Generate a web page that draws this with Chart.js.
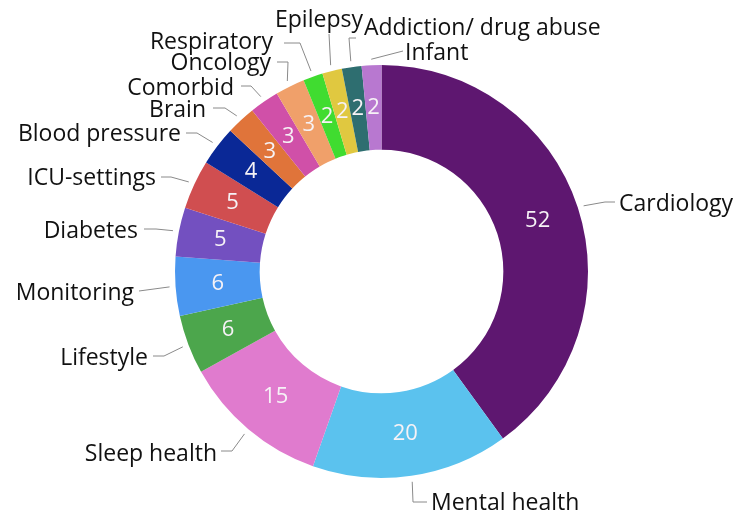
<!DOCTYPE html>
<html>
<head>
<meta charset="utf-8">
<script src="https://cdn.jsdelivr.net/npm/chart.js@4/dist/chart.umd.min.js"></script>
<style>
  html, body { margin: 0; padding: 0; background: #fff; }
  #wrap { width: 738px; height: 519px; }
</style>
</head>
<body>
<div id="wrap"><canvas id="topicsChart"></canvas></div>
<script>
const topics = ['Cardiology', 'Mental health', 'Sleep health', 'Lifestyle', 'Monitoring',
    'Diabetes', 'ICU-settings', 'Blood pressure', 'Brain', 'Comorbid', 'Oncology',
    'Respiratory', 'Epilepsy', 'Addiction/ drug abuse', 'Infant'];
const studyCounts = [52, 20, 15, 6, 6, 5, 5, 4, 3, 3, 3, 2, 2, 2, 2];
const sliceColors = ['#5e1770', '#5bc2ee', '#e07bce', '#4ca64c', '#4a97f0',
    '#7350c0', '#d04e50', '#0a2896', '#e0743a', '#d050a8', '#f0a06a',
    '#40dc30', '#e0c840', '#2e6e70', '#b878d0'];

// where each category name sits, and the bends of its leader line
const nameLayout = [
    { x: 619, y: 204, align: 'left',  bends: [[605, 202], [615, 202]] },
    { x: 431, y: 503, align: 'left',  bends: [[413, 502], [427, 502]] },
    { x: 217, y: 454, align: 'right', bends: [[232, 451], [221, 451]] },
    { x: 148, y: 358, align: 'right', bends: [[164, 356], [153, 356]] },
    { x: 134, y: 293, align: 'right', bends: [[139, 291]] },
    { x: 138, y: 231, align: 'right', bends: [[156, 229], [144, 229]] },
    { x: 156, y: 178, align: 'right', bends: [[171, 177], [161, 177]] },
    { x: 181, y: 134, align: 'right', bends: [[197, 133], [186, 133]] },
    { x: 206, y: 110, align: 'right', bends: [[225, 108], [213, 108]] },
    { x: 234, y: 88,  align: 'right', bends: [[251, 86], [241, 86]] },
    { x: 271, y: 63,  align: 'right', bends: [[288, 62], [277, 62]] },
    { x: 273, y: 42,  align: 'right', bends: [[300, 43], [284, 43]] },
    { x: 275, y: 20,  align: 'left',  bends: [[329, 34]] },
    { x: 364, y: 28,  align: 'left',  bends: [[349, 38], [356, 38]] },
    { x: 405, y: 53,  align: 'left',  bends: [[403, 51]] }
];

const FONT = '"Open Sans", "Noto Sans", sans-serif';

const sliceLabels = {
    id: 'sliceLabels',
    afterDatasetsDraw(chart) {
        const ctx = chart.ctx;
        const arcs = chart.getDatasetMeta(0).data;
        ctx.save();
        arcs.forEach((arc, i) => {
            // value inside the ring
            const pos = arc.tooltipPosition();
            ctx.fillStyle = '#f6f2f6';
            ctx.font = '22px ' + FONT;
            ctx.textAlign = 'center';
            ctx.textBaseline = 'middle';
            ctx.fillText(String(studyCounts[i]), pos.x, pos.y);

            // leader line from just outside the ring
            const mid = (arc.startAngle + arc.endAngle) / 2;
            const r = arc.outerRadius + 6;
            const lay = nameLayout[i];
            ctx.strokeStyle = '#8a8a8a';
            ctx.lineWidth = 1;
            ctx.beginPath();
            ctx.moveTo(arc.x + Math.cos(mid) * r, arc.y + Math.sin(mid) * r);
            lay.bends.forEach(p => ctx.lineTo(p[0], p[1]));
            ctx.stroke();

            // category name
            ctx.fillStyle = '#111';
            ctx.font = '23px ' + FONT;
            ctx.textAlign = lay.align;
            ctx.fillText(topics[i], lay.x, lay.y);
        });
        ctx.restore();
    }
};

new Chart(document.getElementById('topicsChart'), {
    type: 'doughnut',
    data: {
        labels: topics,
        datasets: [{
            data: studyCounts,
            backgroundColor: sliceColors,
            borderWidth: 0
        }]
    },
    options: {
        responsive: true,
        maintainAspectRatio: false,
        animation: false,
        cutout: '59%',
        layout: { padding: { top: 65, bottom: 41, left: 175, right: 150 } },
        plugins: {
            legend: { display: false },
            tooltip: { enabled: false }
        }
    },
    plugins: [sliceLabels]
});
</script>
</body>
</html>
